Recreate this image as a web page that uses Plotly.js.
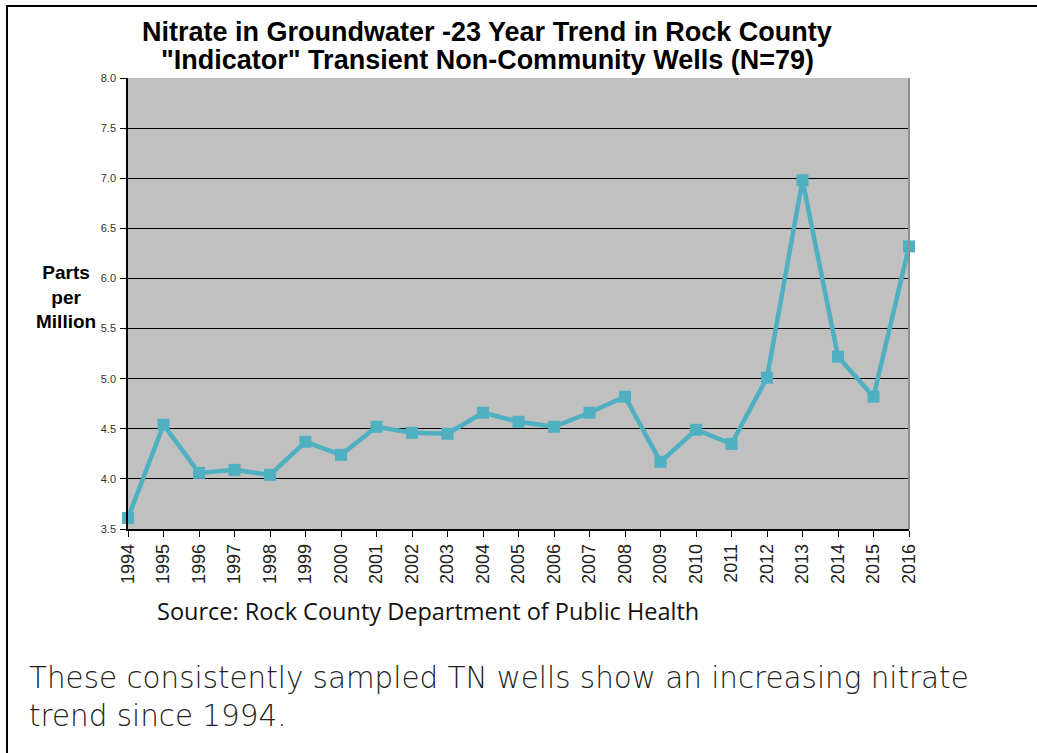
<!DOCTYPE html>
<html>
<head>
<meta charset="utf-8">
<script src="https://cdn.plot.ly/plotly-3.0.1.min.js"></script>
<style>
html,body{margin:0;padding:0;background:#fff;}
#frame{position:absolute;left:6px;top:5px;width:1100px;height:800px;border-left:2px solid #000;border-top:2px solid #000;pointer-events:none;}
#chart{width:1037px;height:753px;}
</style>
</head>
<body>
<div id="chart"></div>
<div id="frame"></div>
<script>
const years = [1994,1995,1996,1997,1998,1999,2000,2001,2002,2003,2004,2005,2006,2007,2008,2009,2010,2011,2012,2013,2014,2015,2016];
const nitratePpm = [3.61,4.54,4.06,4.09,4.04,4.37,4.24,4.52,4.46,4.45,4.66,4.57,4.52,4.66,4.82,4.17,4.49,4.35,5.01,6.98,5.22,4.82,6.32];
const yTicks = [3.5,4.0,4.5,5.0,5.5,6.0,6.5,7.0,7.5,8.0];
const titleLine1 = 'Nitrate in Groundwater -23 Year Trend in Rock County';
const titleLine2 = '"Indicator" Transient Non-Community Wells (N=79)';
const yLabel = 'Parts<br>per<br>Million';
const sourceText = 'Source: Rock County Department of Public Health';
const noteText = 'These consistently sampled TN wells show an increasing nitrate<br>trend since 1994.';

const trace = {
  x: years, y: nitratePpm, type: 'scatter', mode: 'lines+markers',
  line: {color: '#4FB0C2', width: 4.5},
  marker: {symbol: 'square', size: 12, color: '#4FB0C2'},
  cliponaxis: false,
  hoverinfo: 'x+y'
};

const ff = 'Liberation Sans, Arial, sans-serif';
const layout = {
  width: 1037, height: 753,
  margin: {l: 128, r: 128, t: 78, b: 224},
  paper_bgcolor: '#fff', plot_bgcolor: '#C0C0C0',
  showlegend: false,
  xaxis: {
    range: [1994, 2016], tickmode: 'array', tickvals: years, ticktext: years.map(String),
    tickangle: -90, tickfont: {family: ff, size: 18, color: '#222'},
    showgrid: false, zeroline: false, showline: true, linecolor: '#000', linewidth: 1.5,
    ticks: 'outside', ticklen: 6, tickcolor: '#000'
  },
  yaxis: {
    range: [3.5, 8.0], tickmode: 'array', tickvals: yTicks, ticktext: yTicks.map(v => v.toFixed(1)),
    tickfont: {family: ff, size: 11, color: '#333'},
    showgrid: true, gridcolor: '#000', gridwidth: 1.2, zeroline: false,
    showline: true, linecolor: '#000', linewidth: 1.5,
    ticks: 'outside', ticklen: 6, tickcolor: '#000', ticklabelstandoff: 2
  },
  shapes: [
    {type: 'line', xref: 'paper', yref: 'paper', x0: 1, x1: 1, y0: 0, y1: 1, line: {color: '#909090', width: 2}}
  ],
  annotations: [
    {text: titleLine1, xref: 'paper', yref: 'paper', x: (487-128)/781, y: (529-32)/451, xanchor: 'center', yanchor: 'middle', showarrow: false,
     font: {family: ff, size: 27, color: '#000', weight: 'bold'}},
    {text: titleLine2, xref: 'paper', yref: 'paper', x: (487-128)/781, y: (529-60)/451, xanchor: 'center', yanchor: 'middle', showarrow: false,
     font: {family: ff, size: 27, color: '#000', weight: 'bold'}},
    {text: yLabel, xref: 'paper', yref: 'paper', x: (66-128)/781, y: (529-297)/451, xanchor: 'center', yanchor: 'middle', showarrow: false, align: 'center',
     font: {family: ff, size: 19, color: '#000', weight: 'bold'}},
    {text: sourceText, xref: 'paper', yref: 'paper', x: (428-128)/781, y: (529-611)/451, xanchor: 'center', yanchor: 'middle', showarrow: false,
     font: {family: 'Open Sans, Noto Sans, sans-serif', size: 23.5, color: '#111'}},
    {text: noteText, xref: 'paper', yref: 'paper', x: (27-128)/781, y: (529-697)/451, xanchor: 'left', yanchor: 'middle', showarrow: false, align: 'left',
     font: {family: 'DejaVu Sans, sans-serif', size: 29.4, color: '#222', weight: 200}}
  ]
};

Plotly.newPlot('chart', [trace], layout, {displayModeBar: false});
</script>
</body>
</html>
